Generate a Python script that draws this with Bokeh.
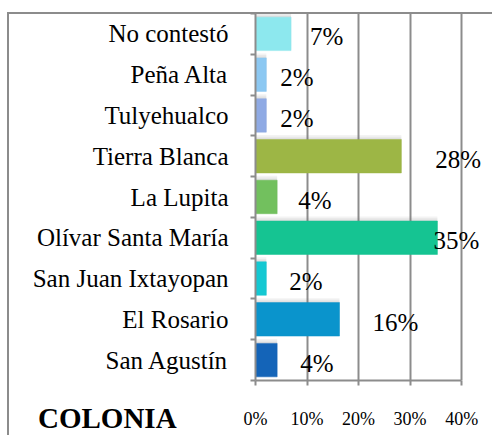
from bokeh.plotting import figure
from bokeh.models import Range1d, FixedTicker, ColumnDataSource, Div
from bokeh.layouts import column
from bokeh.transform import dodge
from bokeh.core.properties import value
from bokeh.embed import file_html
from bokeh.resources import INLINE

# ---- data (bottom to top) ----
categories = ["San Agustín", "El Rosario", "San Juan Ixtayopan",
              "Olívar Santa María", "La Lupita", "Tierra Blanca",
              "Tulyehualco", "Peña Alta", "No contestó"]
values = [4.2, 16.3, 2.1, 35.3, 4.2, 28.3, 2.1, 2.1, 6.9]
value_labels = ["4%", "16%", "2%", "35%", "4%", "28%", "2%", "2%", "7%"]
x_ticks = [0, 10, 20, 30, 40]
x_tick_labels = ["0%", "10%", "20%", "30%", "40%"]
axis_title = "COLONIA"

# ---- styles ----
colors = ["#1464B8", "#0A94CC", "#14C8D2", "#15C492", "#72C05E",
          "#9DB645", "#8FAAE4", "#8CC8F2", "#8DE8EE"]
label_dx = [23, 33, 23, -4, 21, 34, 14, 14, 19]   # pixel offsets of data labels
SERIF = "Liberation Serif, Times New Roman, Tinos, DejaVu Serif, serif"
SERIF_CSS = "'Liberation Serif', 'Times New Roman', Tinos, 'DejaVu Serif', serif"
GRID = "#8c8c8c"
BAR_H = 0.82

n = len(categories)
pos = [i + 0.5 for i in range(n)]

src = ColumnDataSource(dict(y=pos, v=values, lab=value_labels,
                            color=colors, dx=label_dx))

p = figure(width=492, height=435, output_backend="svg", toolbar_location=None,
           x_range=Range1d(0, 45.6), y_range=Range1d(0, n),
           min_border_left=255, min_border_right=2,
           min_border_top=13, min_border_bottom=55)
p.background_fill_color = None
p.border_fill_color = None
p.outline_line_color = None
# outer chart border (left and top edges), drawn behind the transparent canvas
p.styles = {
    "background-color": "white",
    "background-image": f"linear-gradient({GRID},{GRID}), linear-gradient({GRID},{GRID})",
    "background-size": "2px 100%, 100% 2px",
    "background-position": "7px 12px, 7px 12px",
    "background-repeat": "no-repeat",
}

# soft shadows above the bars
for d in [0.03, 0.07, 0.11]:
    p.hbar(y=dodge("y", d, range=p.y_range), right="v", left=0, height=BAR_H,
           source=src, fill_color="#7a7a7a", fill_alpha=0.09, line_color=None)

# bars
p.hbar(y="y", right="v", left=0, height=BAR_H, source=src,
       fill_color="color", line_color="color", line_alpha=0.5)

# data labels
p.text(x="v", y="y", text="lab", source=src, x_offset="dx", y_offset=3,
       text_font=value(SERIF), text_font_size="25px",
       text_align="left", text_baseline="middle", text_color="black")

# x axis
p.xaxis.ticker = FixedTicker(ticks=x_ticks)
p.xaxis.bounds = (x_ticks[0], x_ticks[-1])
p.xaxis.major_label_overrides = {t: l for t, l in zip(x_ticks, x_tick_labels)}
p.xaxis.major_label_text_font = SERIF
p.xaxis.major_label_text_font_size = "18px"
p.xaxis.major_label_text_color = "black"
p.xaxis.major_label_standoff = 23
p.xaxis.axis_line_color = GRID
p.xaxis.axis_line_width = 2
p.xaxis.major_tick_line_color = GRID
p.xaxis.major_tick_line_width = 2
p.xaxis.major_tick_out = 5
p.xaxis.major_tick_in = 0
p.xaxis.minor_tick_line_color = None

# y axis: labels at band centres, ticks at band boundaries
p.yaxis.ticker = FixedTicker(ticks=pos, minor_ticks=list(range(n + 1)))
p.yaxis.major_label_overrides = {y: c for y, c in zip(pos, categories)}
p.yaxis.major_label_text_font = SERIF
p.yaxis.major_label_text_font_size = "25px"
p.yaxis.major_label_text_color = "black"
p.yaxis.major_label_standoff = 22
p.yaxis.axis_line_color = GRID
p.yaxis.axis_line_width = 2
p.yaxis.major_tick_line_color = None
p.yaxis.major_tick_out = 0
p.yaxis.minor_tick_line_color = GRID
p.yaxis.minor_tick_line_width = 2
p.yaxis.minor_tick_out = 5
p.yaxis.minor_tick_in = 0

# grid
p.xgrid.ticker = FixedTicker(ticks=x_ticks)
p.xgrid.grid_line_color = GRID
p.xgrid.grid_line_width = 2
p.ygrid.grid_line_color = None

# axis title, bottom-left corner
title = Div(
    text=f'<span style="font-family:{SERIF_CSS};font-weight:bold;'
         f'font-size:29px;line-height:29px;color:black;white-space:nowrap">{axis_title}</span>',
    width=200, height=30,
    styles={"position": "absolute", "left": "33px", "top": "399px"})

layout = column(p, title)
open("out.html", "w").write(file_html(layout, INLINE))
